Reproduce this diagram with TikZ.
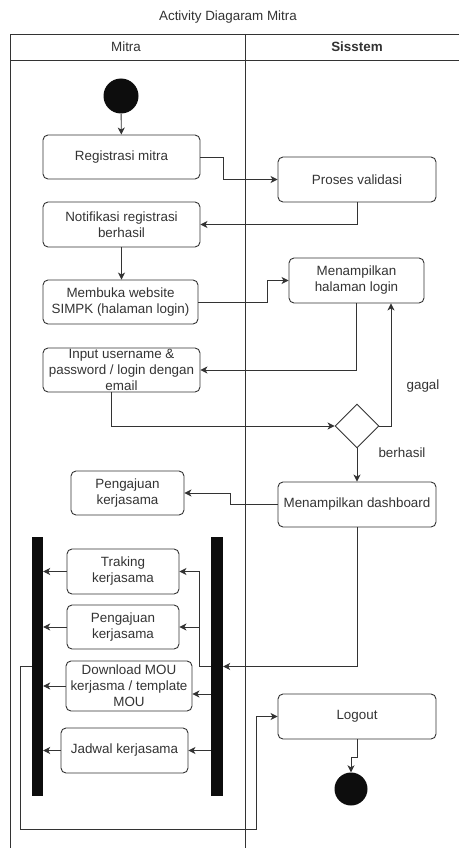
\documentclass[tikz,border=0pt]{standalone}
\usepackage{fontspec}
\setmainfont{Liberation Sans}
\usetikzlibrary{arrows.meta,shapes.geometric,calc}
\definecolor{ink}{HTML}{333333}
\tikzset{
  every node/.style={font=\fontsize{13.4}{16}\selectfont, text=ink},
  act/.style={draw=ink, line width=0.9pt, rounded corners=5pt, rectangle,
    align=center, inner sep=0pt},
  bar/.style={fill=black!95, draw=none, rectangle, inner sep=0pt, minimum width=11, minimum height=259},
  dot/.style={circle, fill=black!95, draw=none, inner sep=0pt},
  lane/.style={draw=ink, line width=0.9pt},
  arr/.style={draw=ink, line width=0.9pt, -{Stealth[length=7pt,width=7pt,inset=2pt]}},
  lbl/.style={inner sep=0pt}
}
\begin{document}
\begin{tikzpicture}[x=1pt, y=-1pt]
\useasboundingbox (0,0) rectangle (459,848);

% swimlanes
\node[lbl] (title) at (228,17) {Activity Diagaram Mitra};
\draw[lane] (459,34) -- (10,34) -- (10,848);
\draw[lane] (10,60) -- (459,60);
\draw[lane] (245,34) -- (245,848);
\node[lbl] (hMitra) at (126,47) {Mitra};
\node[lbl] (hSys) at (357,47) {\bfseries Sisstem};

% activities
\node[dot, minimum size=35] (start) at (121,96) {};
\node[act, minimum width=157, minimum height=44] (reg) at (121.5,157) {Registrasi mitra};
\node[act, minimum width=158, minimum height=45] (val) at (357,179.5) {Proses validasi};
\node[act, minimum width=157, minimum height=45] (notif) at (121.5,224.5) {Notifikasi registrasi\\berhasil};
\node[act, minimum width=155, minimum height=44] (buka) at (120.5,302) {Membuka website\\SIMPK (halaman login)};
\node[act, minimum width=135, minimum height=45] (hal) at (356.5,280.5) {Menampilkan\\halaman login};
\node[act, minimum width=157, minimum height=44] (input) at (121.5,370) {};
\node[lbl, align=center] (inputT) at (121.5,370) {Input username \&\\password / login dengan\\email};
\node[diamond, draw=ink, line width=0.9pt, aspect=1, inner sep=0pt,
      minimum width=44, minimum height=44] (dec) at (357,426) {};
\node[act, minimum width=158, minimum height=45] (dash) at (357,504.5) {Menampilkan dashboard};
\node[act, minimum width=113, minimum height=44] (aju1) at (127.5,493) {Pengajuan\\kerjasama};

% fork bars and parallel activities
\node[bar] (barL) at (37.5,666.5) {};
\node[bar, minimum width=12] (barR) at (217,666.5) {};
\node[act, minimum width=112, minimum height=45] (trak) at (123,571.5) {Traking\\kerjasama};
\node[act, minimum width=112, minimum height=44] (aju2) at (123,627) {Pengajuan\\kerjasama};
\node[act, minimum width=126, minimum height=50] (mou) at (129,686) {Download MOU\\kerjasma / template\\MOU};
\node[act, minimum width=127, minimum height=45] (jad) at (124.5,750.5) {Jadwal kerjasama};

\node[act, minimum width=158, minimum height=45] (logout) at (357,716.5) {Logout};
\node[dot, minimum size=33] (end) at (351,789) {};

% flow
\draw[arr] (start) -- (reg);
\draw[arr] (reg.east) -- ++(23,0) |- (val.west);
\draw[arr] (val.south) |- (notif.east);
\draw[arr] (notif.south) -- (notif.south |- buka.north);
\draw[arr] (buka.east) -- ++(69,0) |- (hal.west);
\draw[arr] (hal.south) |- (input.east);
\draw[arr] ($(input.south)+(-10.5,0)$) |- (dec.west);
\draw[arr] (dec.east) -| ($(hal.south)+(34.5,0)$);
\node[lbl] (gagal) at (423,386) {gagal};
\draw[arr] (dec.south) -- (dash.north);
\node[lbl] (berhasil) at (402,453) {berhasil};
\draw[arr] (dash.west) -- ++(-47,0) |- (aju1.east);
\draw[arr] (dash.south) |- (barR.east);

% fork: right bar to activities
\coordinate (mouR) at ($(mou.east)+(0,8)$);
\draw[arr] (barR.west) -- ++(-11,0) |- (trak.east);
\draw[arr] (barR.west) -- ++(-11,0) |- (aju2.east);
\draw[arr] (barR.west |- mouR) -- (mouR);
\draw[arr] (barR.west |- jad.east) -- (jad.east);

% join: activities to left bar
\draw[arr] (trak.west) -- (trak.west -| barL.east);
\draw[arr] (aju2.west) -- (aju2.west -| barL.east);
\draw[arr] (mou.west) -- (mou.west -| barL.east);
\draw[arr] (jad.west) -- (jad.west -| barL.east);

% left bar to logout, then final node
\coordinate (loopB) at (256,829);
\draw[arr] (barL.west) -- ++(-11,0) |- (loopB) |- (logout.west);
\draw[arr] (logout.south) -- ++(0,18) -| (end.north);
\end{tikzpicture}
\end{document}
